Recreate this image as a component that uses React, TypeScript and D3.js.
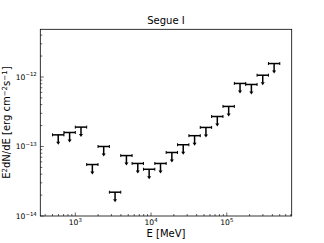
import React, { useEffect, useRef } from 'react';
import * as d3 from 'd3';

// energy bin edges [MeV], 20 bins from 500 MeV to 500 GeV
const binEdges = [
  500, 708, 1000, 1413, 1995, 2818, 3981, 5623, 7943, 11220, 15849,
  22387, 31623, 44668, 63096, 89125, 125893, 177828, 251189, 354813, 501187,
];

// upper limits on E^2 dN/dE [erg cm^-2 s^-1]
const upperLimits = [
  1.47e-13, 1.59e-13, 1.9e-13, 5.5e-14, 1.0e-13, 2.2e-14, 7.4e-14, 5.7e-14,
  4.7e-14, 5.7e-14, 8.2e-14, 1.06e-13, 1.43e-13, 1.88e-13, 2.7e-13, 3.77e-13,
  8.07e-13, 7.8e-13, 1.06e-12, 1.56e-12,
];

const xTickExps = [3, 4, 5];
const yTickExps = [-14, -13, -12];

const W = 324;
const H = 243;
const margin = { top: 29.3, right: 32.3, bottom: 27, left: 40.3 };

const App: React.FC = () => {
  const svgRef = useRef<SVGSVGElement>(null);

  useEffect(() => {
    if (!svgRef.current) return;
    const svg = d3.select(svgRef.current);
    svg.selectAll('*').remove();

    const x0 = margin.left;
    const x1 = W - margin.right;
    const y0 = margin.top;
    const y1 = H - margin.bottom;

    const x = d3.scaleLog().domain([345, 7.2e5]).range([x0, x1]);
    const y = d3.scaleLog().domain([1e-14, 4.85e-12]).range([y1, y0]);

    const font = 'DejaVu Sans, sans-serif';

    // title
    svg.append('text')
      .attr('x', (x0 + x1) / 2)
      .attr('y', y0 - 5)
      .attr('text-anchor', 'middle')
      .style('font-family', font)
      .style('font-size', '10px')
      .text('Segue I');

    // ticks
    const ticks = svg.append('g').attr('stroke', '#000').attr('stroke-width', 0.6);
    const xMinor: number[] = [];
    for (let e = 2; e <= 5; e++) {
      for (let m = 1; m <= 9; m++) {
        const v = m * Math.pow(10, e);
        if (v >= x.domain()[0] && v <= x.domain()[1]) xMinor.push(v);
      }
    }
    xMinor.forEach(v => {
      const major = xTickExps.some(p => Math.abs(Math.log10(v) - p) < 1e-9);
      ticks.append('line')
        .attr('x1', x(v)).attr('x2', x(v))
        .attr('y1', y1).attr('y2', y1 - (major ? 3.5 : 2));
    });
    const yMinor: number[] = [];
    for (let e = -14; e <= -12; e++) {
      for (let m = 1; m <= 9; m++) {
        const v = m * Math.pow(10, e);
        if (v >= 1e-14 && v <= y.domain()[1]) yMinor.push(v);
      }
    }
    yMinor.forEach(v => {
      const major = yTickExps.some(p => Math.abs(Math.log10(v) - p) < 1e-9);
      ticks.append('line')
        .attr('x1', x0).attr('x2', x0 + (major ? 3.5 : 2))
        .attr('y1', y(v)).attr('y2', y(v));
    });

    // tick labels
    xTickExps.forEach(p => {
      const t = svg.append('text')
        .attr('x', x(Math.pow(10, p)))
        .attr('y', y1 + 8.8)
        .attr('text-anchor', 'middle')
        .style('font-family', font)
        .style('font-size', '7.6px');
      t.append('tspan').text('10');
      t.append('tspan').attr('dy', -3.3).style('font-size', '5.4px').text(String(p));
    });
    yTickExps.forEach(p => {
      const t = svg.append('text')
        .attr('x', x0 - 3.5)
        .attr('y', y(Math.pow(10, p)) + 2.8)
        .attr('text-anchor', 'end')
        .style('font-family', font)
        .style('font-size', '7.6px');
      t.append('tspan').text('10');
      t.append('tspan').attr('dy', -3.3).style('font-size', '5.4px').text('\u2212' + Math.abs(p));
    });

    // axis labels
    svg.append('text')
      .attr('x', (x0 + x1) / 2)
      .attr('y', H - 6)
      .attr('text-anchor', 'middle')
      .style('font-family', font)
      .style('font-size', '10px')
      .text('E [MeV]');

    const yl = svg.append('text')
      .attr('transform', `translate(10,${(y0 + y1) / 2}) rotate(-90)`)
      .attr('text-anchor', 'middle')
      .style('font-family', font)
      .style('font-size', '10px');
    yl.append('tspan').text('E');
    yl.append('tspan').attr('dy', -3.5).style('font-size', '7px').text('2');
    yl.append('tspan').attr('dy', 3.5).text('dN/dE [erg cm');
    yl.append('tspan').attr('dy', -3.5).style('font-size', '7px').text('\u22122');
    yl.append('tspan').attr('dy', 3.5).text('s');
    yl.append('tspan').attr('dy', -3.5).style('font-size', '7px').text('\u22121');
    yl.append('tspan').attr('dy', 3.5).text(']');

    // upper limit markers
    const pts = upperLimits.map((v, i) => ({
      lo: binEdges[i],
      hi: binEdges[i + 1],
      c: Math.sqrt(binEdges[i] * binEdges[i + 1]),
      v,
    }));
    const g = svg.append('g').attr('stroke', '#000').attr('fill', 'none');
    const mk = g.selectAll('g.ul').data(pts).enter().append('g').attr('class', 'ul');
    mk.append('line')
      .attr('x1', d => x(d.lo)).attr('x2', d => x(d.hi))
      .attr('y1', d => y(d.v)).attr('y2', d => y(d.v))
      .attr('stroke-width', 1.5);
    mk.append('line')
      .attr('x1', d => x(d.lo)).attr('x2', d => x(d.lo))
      .attr('y1', d => y(d.v) - 1.5).attr('y2', d => y(d.v) + 1.5)
      .attr('stroke-width', 1);
    mk.append('line')
      .attr('x1', d => x(d.hi)).attr('x2', d => x(d.hi))
      .attr('y1', d => y(d.v) - 1.5).attr('y2', d => y(d.v) + 1.5)
      .attr('stroke-width', 1);
    mk.append('line')
      .attr('x1', d => x(d.c)).attr('x2', d => x(d.c))
      .attr('y1', d => y(d.v)).attr('y2', d => y(d.v) + 7.5)
      .attr('stroke-width', 1.5);
    mk.append('path')
      .attr('d', d => {
        const cx = x(d.c);
        const cy = y(d.v) + 10;
        return `M${cx - 2},${cy - 3} L${cx + 2},${cy - 3} L${cx},${cy} Z`;
      })
      .attr('fill', '#000')
      .attr('stroke', 'none');

    // frame
    svg.append('rect')
      .attr('x', x0).attr('y', y0)
      .attr('width', x1 - x0).attr('height', y1 - y0)
      .attr('fill', 'none')
      .attr('stroke', '#000')
      .attr('stroke-width', 0.8);
  }, []);

  return (
    <svg
      ref={svgRef}
      width={W}
      height={H}
      style={{ position: 'absolute', left: 0, top: 0, background: '#fff' }}
    />
  );
};

export default App;
